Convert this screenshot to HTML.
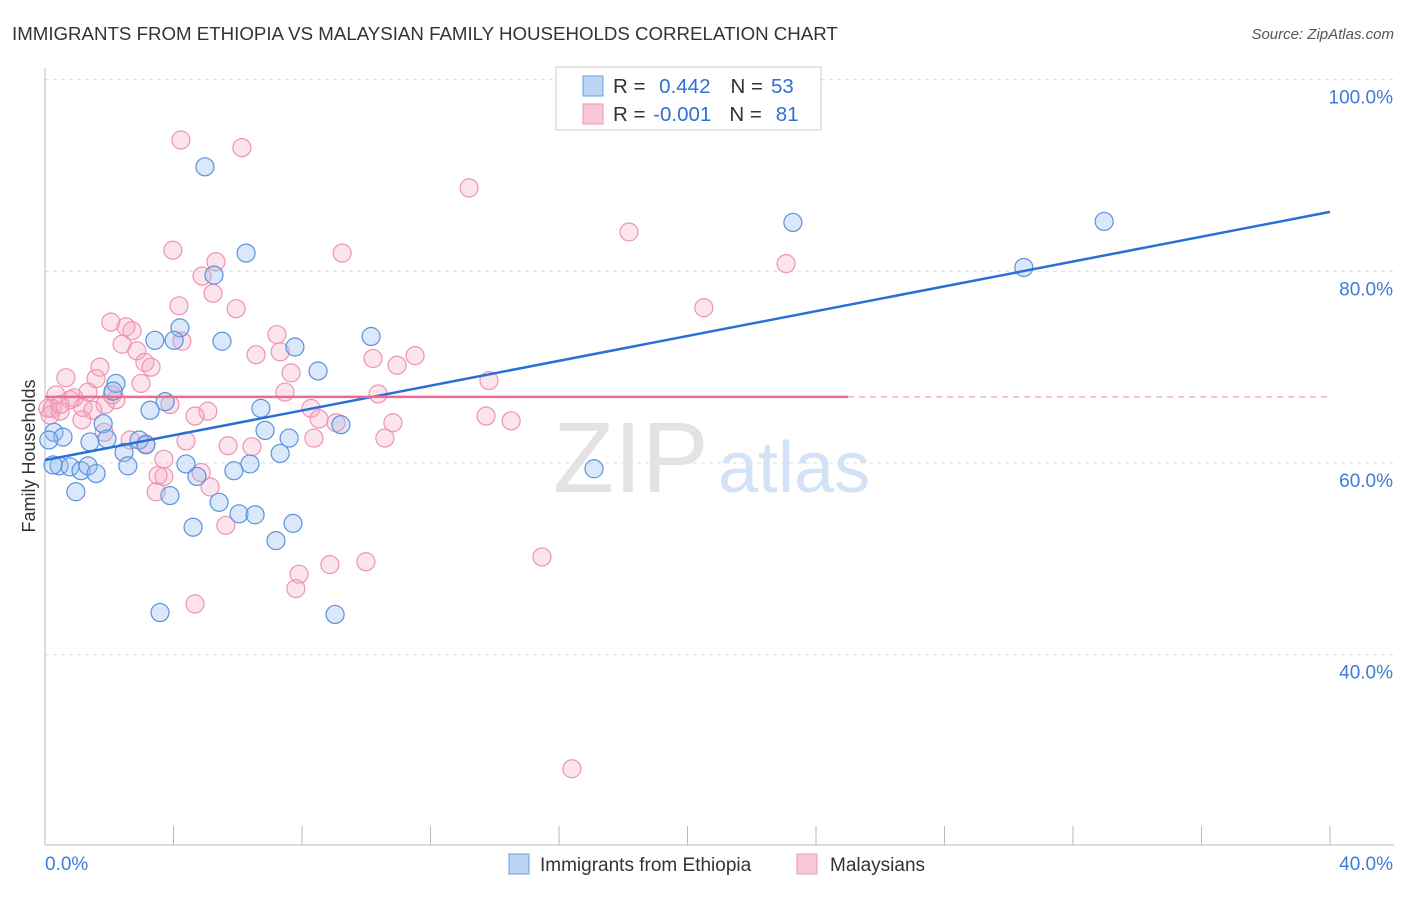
<!DOCTYPE html>
<html><head><meta charset="utf-8"><style>
body{margin:0;background:#fff;font-family:"Liberation Sans",sans-serif;}
svg text{font-family:"Liberation Sans",sans-serif;}
</style></head><body>
<svg id="c" width="1406" height="892" xmlns="http://www.w3.org/2000/svg">
<text x="12" y="40" font-size="18.7" fill="#333">IMMIGRANTS FROM ETHIOPIA VS MALAYSIAN FAMILY HOUSEHOLDS CORRELATION CHART</text>
<text x="1394" y="39" font-size="15" fill="#555" text-anchor="end" font-style="italic">Source: ZipAtlas.com</text>
<text x="35" y="456" font-size="18" fill="#333" text-anchor="middle" transform="rotate(-90 35 456)">Family Households</text>
<g id="grid"></g>
<text x="553" y="492" font-size="100" fill="#e3e3e3" font-family="Liberation Serif">ZIP</text>
<text x="718" y="492" font-size="72" fill="#d3e2f5">atlas</text>
<g id="axes"></g>
<g id="pts"></g>
<g id="lines"></g>
<g>
<rect x="556" y="67" width="265" height="63" fill="#fff" stroke="#ccc"/>
<rect x="583" y="76" width="20" height="20" fill="#bcd5f5" stroke="#6a9ee0"/>
<rect x="583" y="104" width="20" height="20" fill="#f9c8d8" stroke="#ee99b6"/>
<text x="613" y="93" font-size="20.5" fill="#333">R = <tspan fill="#2f6fd6" dx="8">0.442</tspan><tspan dx="20" fill="#333">N =</tspan><tspan dx="8" fill="#2f6fd6">53</tspan></text>
<text x="613" y="121" font-size="20.5" fill="#333">R = <tspan fill="#2f6fd6" dx="2">-0.001</tspan><tspan dx="18" fill="#333">N =</tspan><tspan dx="14" fill="#2f6fd6">81</tspan></text>
</g>
<g>
<rect x="509" y="854" width="20" height="20" fill="#bcd5f5" stroke="#6a9ee0"/>
<text x="540" y="871" font-size="19" fill="#333">Immigrants from Ethiopia</text>
<rect x="797" y="854" width="20" height="20" fill="#f9c8d8" stroke="#ee99b6"/>
<text x="830" y="871" font-size="19" fill="#333">Malaysians</text>
</g>
</svg>
<script>
const blueX=[4.98,6.26,5.26,4.20,3.42,4.02,5.51,7.78,8.50,10.15,2.21,2.12,3.74,3.27,6.72,9.21,6.85,0.28,0.56,1.81,1.40,1.93,2.93,3.14,2.46,7.32,7.60,0.44,0.78,1.12,1.34,1.59,2.58,4.39,6.38,5.88,4.73,0.96,3.89,5.42,6.04,6.54,7.72,4.61,7.19,3.58,9.03,17.09,23.28,30.47,32.97,0.25,0.12];
const blueY=[90.9,81.9,79.6,74.1,72.8,72.8,72.7,72.1,69.6,73.2,68.3,67.5,66.4,65.5,65.7,64.0,63.4,63.2,62.7,64.1,62.2,62.5,62.4,61.9,61.1,61.0,62.6,59.7,59.6,59.2,59.7,58.9,59.7,59.9,59.9,59.2,58.6,57.0,56.6,55.9,54.7,54.6,53.7,53.3,51.9,44.4,44.2,59.4,85.1,80.4,85.2,59.8,62.4];
const pinkX=[4.23,6.13,13.20,18.18,3.98,9.25,5.32,23.07,4.89,5.23,4.17,5.95,20.51,2.05,2.52,2.71,7.22,2.40,4.26,2.86,7.32,6.57,11.52,10.21,10.96,1.71,3.11,3.30,7.66,0.65,1.59,2.99,1.34,13.82,7.47,10.37,0.34,0.90,0.78,2.21,1.87,1.18,1.49,3.89,5.07,4.67,8.28,8.53,0.22,0.47,1.15,13.73,14.51,10.83,9.06,1.84,3.14,4.39,5.70,6.44,8.37,10.58,3.70,4.86,3.70,3.52,5.14,3.46,5.63,15.47,9.99,8.87,7.91,7.81,4.67,16.40,0.09,0.16,2.65,0.47,2.09];
const pinkY=[93.7,92.9,88.7,84.1,82.2,81.9,81.0,80.8,79.5,77.7,76.4,76.1,76.2,74.7,74.2,73.8,73.4,72.4,72.7,71.7,71.6,71.3,71.2,70.9,70.2,70.0,70.5,70.0,69.4,68.9,68.8,68.3,67.4,68.6,67.4,67.2,67.1,66.8,66.6,66.6,66.1,65.8,65.5,66.1,65.4,64.9,65.7,64.6,65.7,65.4,64.5,64.9,64.4,64.2,64.2,63.2,62.0,62.3,61.8,61.7,62.6,62.6,60.4,59.0,58.6,58.7,57.5,57.0,53.5,50.2,49.7,49.4,48.4,46.9,45.3,28.1,65.7,65.0,62.4,66.1,67.1];
const yTicks=[100,80,60,40];
const yTickLabels=["100.0%","80.0%","60.0%","40.0%"];
const xTickCount=10;
const blueTrend=[60.3,86.2];
const pinkTrend=[66.9,66.9];
const pinkSolidEnd=25.0;
const NS="http://www.w3.org/2000/svg";
const X=v=>45+v/40*1285;
const Y=v=>463-(v-60)/20*191.7;
function mk(t,a,p){const e=document.createElementNS(NS,t);for(const k in a)e.setAttribute(k,a[k]);p.appendChild(e);return e;}
const grid=document.getElementById('grid'),axes=document.getElementById('axes'),pts=document.getElementById('pts'),lines=document.getElementById('lines');
yTicks.forEach((t,i)=>{
 const l=mk('line',{x1:45,x2:1394,y1:Y(t),y2:Y(t),stroke:'#dcdcdc','stroke-dasharray':'4,4'},grid);
 
 
 const tx=mk('text',{x:1393,y:Y(t)+24,'font-size':19,fill:'#3d7bd9','text-anchor':'end'},axes);
 tx.textContent=yTickLabels[i];
 
 
});
mk('line',{x1:45,x2:45,y1:68,y2:845,stroke:'#bbb'},axes);
mk('line',{x1:45,x2:1394,y1:845,y2:845,stroke:'#bbb'},axes);
for(let i=1;i<=xTickCount;i++){const t=mk('line',{x1:X(i*4),x2:X(i*4),y1:826,y2:845,stroke:'#bbb'},axes);
 
 }
const x0=mk('text',{x:45,y:870,'font-size':19,fill:'#3d7bd9'},axes);x0.textContent='0.0%';


const x1=mk('text',{x:1393,y:870,'font-size':19,fill:'#3d7bd9','text-anchor':'end'},axes);x1.textContent='40.0%';


pinkX.forEach((v,i)=>{const c=mk('circle',{cx:X(v),cy:Y(pinkY[i]),r:9,fill:'rgba(245,165,192,0.3)',stroke:'#ef93b3','stroke-width':1.2},pts);
 
 });
blueX.forEach((v,i)=>{const c=mk('circle',{cx:X(v),cy:Y(blueY[i]),r:9,fill:'rgba(150,190,240,0.35)',stroke:'#5a92dc','stroke-width':1.2},pts);
 
 });
const bl=mk('line',{x1:X(0),y1:Y(blueTrend[0]),x2:X(40),y2:Y(blueTrend[1]),stroke:'#2a6fd6','stroke-width':2.5},lines);


const pl=mk('line',{x1:X(0),y1:Y(pinkTrend[0]),x2:X(pinkSolidEnd),y2:Y(pinkTrend[0]),stroke:'#ec6a94','stroke-width':2.5},lines);


const pd=mk('line',{x1:X(pinkSolidEnd),y1:Y(pinkTrend[0]),x2:X(40),y2:Y(pinkTrend[1]),stroke:'#e9a3bb','stroke-width':1.2,'stroke-dasharray':'6,5'},lines);


</script>
</body></html>
